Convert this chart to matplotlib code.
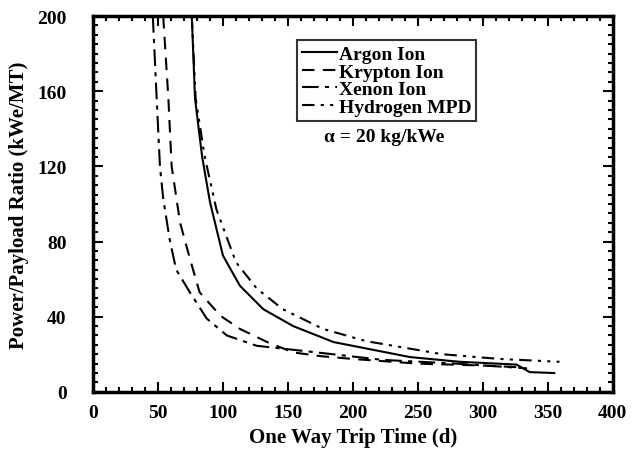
import numpy as np
import matplotlib.pyplot as plt
from matplotlib.ticker import MultipleLocator

# data (trip time in days, power/payload ratio)
argon_t = [76, 78.5, 84, 90, 100, 113, 131, 154, 185, 244, 282, 326, 336, 355]
argon_r = [200, 156, 125, 101, 72.5, 56.5, 44, 35, 26.5, 18.5, 16, 14.5, 10.5, 10]

hydrogen_t = [76, 79, 86, 95, 110, 126, 146, 177, 210, 269, 313, 359]
hydrogen_r = [200, 156, 125, 97, 69, 55, 44, 33.5, 27, 20, 17.5, 16]

krypton_t = [54, 56, 58, 60.5, 67, 74.5, 82, 98, 113, 134, 154, 175, 200, 250, 300, 330]
krypton_r = [200, 178, 156, 120, 90, 71, 53, 40.5, 33.5, 26.5, 21, 19, 17.5, 15, 14, 13]

xenon_t = [46, 47.5, 49, 51.5, 54, 59, 64, 74.5, 87.5, 103, 126, 159, 223, 280, 334]
xenon_r = [200, 178, 156, 120, 103, 81, 65, 53, 39, 30, 24.5, 22, 17, 15, 12.5]

plt.rcParams['font.family'] = ['Liberation Serif', 'DejaVu Serif']
plt.rcParams['font.weight'] = 'bold'

fig = plt.figure(figsize=(6.35, 4.6), dpi=100)
ax = fig.add_axes([0.1465, 0.146, 0.8185, 0.817])

ax.plot(argon_t, argon_r, color='black', lw=1.5, ls='-', label='Argon Ion')
ax.plot(krypton_t, krypton_r, color='black', lw=1.5, ls=(0, (6, 4)), label='Krypton Ion')
ax.plot(xenon_t, xenon_r, color='black', lw=1.5, ls=(0, (8, 3, 2, 3)), label='Xenon Ion')
ax.plot(hydrogen_t, hydrogen_r, color='black', lw=1.5, ls=(0, (6, 3, 1.5, 3, 1.5, 3)),
        label='Hydrogen MPD')

ax.set_xlim(0, 400)
ax.set_ylim(0, 200)
ax.xaxis.set_major_locator(MultipleLocator(50))
ax.xaxis.set_minor_locator(MultipleLocator(10))
ax.yaxis.set_major_locator(MultipleLocator(40))
ax.yaxis.set_minor_locator(MultipleLocator(5))
ax.tick_params(which='both', direction='in', top=True, right=True, width=1.5)
ax.tick_params(which='major', length=7, labelsize=14)
ax.tick_params(axis='x', which='major', pad=9)
ax.tick_params(axis='y', which='major', pad=19)
ax.tick_params(which='minor', length=3.5)
for s in ax.spines.values():
    s.set_linewidth(2.5)
for lab in ax.get_xticklabels() + ax.get_yticklabels():
    lab.set_fontweight('bold')

ax.set_xlabel('One Way Trip Time (d)', fontsize=15, fontweight='bold', labelpad=4)
ax.set_ylabel('Power/Payload Ratio (kWe/MT)', fontsize=15, fontweight='bold', labelpad=6)

leg = ax.legend(loc='upper left', bbox_to_anchor=(0.392, 0.935), fontsize=14,
                frameon=True, fancybox=False, edgecolor='black', handlelength=1.8,
                handletextpad=0.1, borderpad=0.25, labelspacing=0.0, borderaxespad=0)
leg.get_frame().set_linewidth(1.5)
for t in leg.get_texts():
    t.set_fontweight('bold')

ax.text(0.56, 0.68, '\u03b1 = 20 kg/kWe', transform=ax.transAxes, ha='center',
        va='center', fontsize=14, fontweight='bold')

fig.savefig('out.png', dpi=100)
